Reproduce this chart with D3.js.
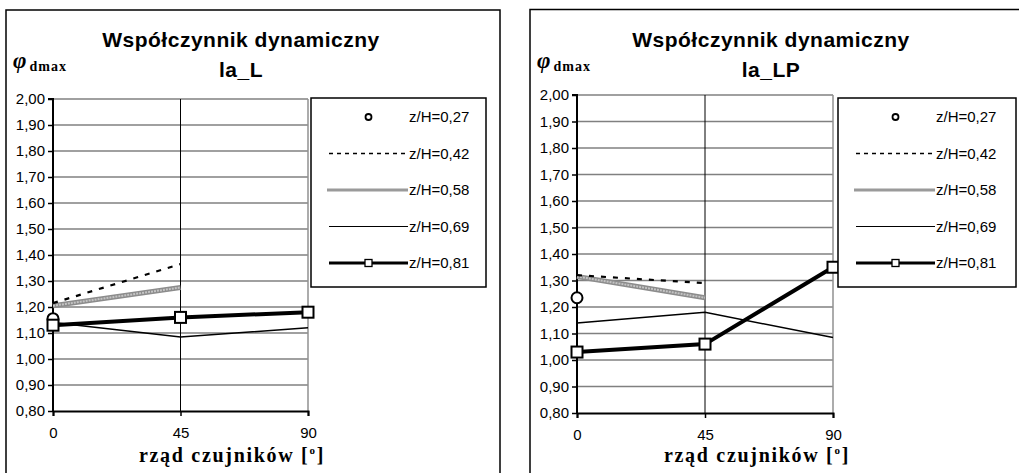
<!DOCTYPE html>
<html>
<head>
<meta charset="utf-8">
<script src="https://cdn.jsdelivr.net/npm/d3@7"></script>
<style>
  html, body { margin: 0; padding: 0; background: #fff; }
  svg { display: block; }
</style>
</head>
<body>
<svg id="chart" width="1019" height="473"></svg>
<script>
// Sensor rows (degrees) and value axis ticks
const categories = [0, 45, 90];
const yTicks = [0.8, 0.9, 1.0, 1.1, 1.2, 1.3, 1.4, 1.5, 1.6, 1.7, 1.8, 1.9, 2.0];
const seriesNames = ["z/H=0,27", "z/H=0,42", "z/H=0,58", "z/H=0,69", "z/H=0,81"];

// Dynamic coefficient, configuration la_L
const laL_027 = [1.155];
const laL_042 = [1.215, 1.365];
const laL_058 = [1.205, 1.275];
const laL_069 = [1.14, 1.085, 1.12];
const laL_081 = [1.13, 1.16, 1.18];

// Dynamic coefficient, configuration la_LP
const laLP_027 = [1.235];
const laLP_042 = [1.32, 1.29];
const laLP_058 = [1.315, 1.235];
const laLP_069 = [1.14, 1.18, 1.085];
const laLP_081 = [1.03, 1.06, 1.35];

const svg = d3.select("#chart");
const fmt = v => d3.format(".2f")(v).replace(".", ",");
const SANS = "'Liberation Sans', Arial, sans-serif";
const SERIF = "'Liberation Serif', 'Times New Roman', serif";

function panel(cfg) {
  const g = svg.append("g");

  // outer frame
  g.append("rect")
    .attr("x", cfg.box[0]).attr("y", cfg.box[1])
    .attr("width", cfg.box[2]).attr("height", cfg.box[3])
    .attr("fill", "#fff").attr("stroke", "#000").attr("stroke-width", 1.5);

  const x = d3.scaleLinear().domain([0, 90]).range([cfg.plot.x0, cfg.plot.x1]);
  const y = d3.scaleLinear().domain([0.8, 2.0]).range([cfg.plot.y0, cfg.plot.y1]);

  // horizontal gridlines
  g.append("g").selectAll("line").data(yTicks.slice(1)).join("line")
    .attr("x1", x(0)).attr("x2", x(90))
    .attr("y1", d => y(d)).attr("y2", d => y(d))
    .attr("stroke", "#808080").attr("stroke-width", 1.5);

  // vertical gridlines
  g.append("line")
    .attr("x1", x(45)).attr("x2", x(45)).attr("y1", y(2.0)).attr("y2", y(0.8))
    .attr("stroke", "#000").attr("stroke-width", 1);
  g.append("line")
    .attr("x1", x(90)).attr("x2", x(90)).attr("y1", y(2.0)).attr("y2", y(0.8))
    .attr("stroke", "#909090").attr("stroke-width", 1.5);

  // axes
  const yAxis = d3.axisLeft(y).tickValues(yTicks).tickFormat(fmt).tickSize(5).tickPadding(3);
  const ya = g.append("g").attr("transform", `translate(${x(0)},0)`).call(yAxis);
  const xAxis = d3.axisBottom(x).tickValues(categories).tickFormat(d3.format("d")).tickSize(5).tickPadding(11);
  const xa = g.append("g").attr("transform", `translate(0,${y(0.8)})`).call(xAxis);
  [ya, xa].forEach(a => {
    a.attr("font-size", 15).attr("font-family", SANS);
    a.select(".domain").attr("stroke", "#000").attr("stroke-width", 2);
    a.selectAll(".tick line").attr("stroke", "#000").attr("stroke-width", 1.5);
    a.selectAll(".tick text").attr("fill", "#000");
  });
  ya.select(".domain").attr("d", `M-5,${y(2.0)}H0V${y(0.8)}`);

  // titles
  const title = g.append("text")
    .attr("text-anchor", "middle")
    .style("font-family", SANS)
    .style("font-weight", "bold").style("font-size", "21px").style("letter-spacing", "0.5px");
  title.append("tspan").attr("x", cfg.titleX).attr("y", 47).text("Współczynnik dynamiczny");
  title.append("tspan").attr("x", cfg.titleX).attr("y", 77).text(cfg.name);

  const yl = g.append("text").attr("x", cfg.box[0] + 7).attr("y", 68)
    .style("font-family", SERIF).style("font-weight", "bold");
  yl.append("tspan").text("φ").style("font-style", "italic").style("font-size", "23px");
  yl.append("tspan").attr("dx", 3).attr("dy", 3).text("dmax").style("font-size", "14px").style("letter-spacing", "1px");

  const xt = g.append("text")
    .attr("x", cfg.xTitleX).attr("y", 462).attr("text-anchor", "middle")
    .style("font-family", SERIF)
    .style("font-weight", "bold").style("font-size", "20px").style("letter-spacing", "1.7px");
  xt.append("tspan").text("rząd czujników [");
  xt.append("tspan").text("o").style("font-size", "11px").attr("dy", -8);
  xt.append("tspan").text("]").attr("dy", 8);

  // series
  const line = d3.line().x((d, i) => x(categories[i])).y(d => y(d));
  const s = cfg.series;

  // z/H=0,58 — grey textured band
  g.append("path").datum(s[2]).attr("d", line).attr("fill", "none")
    .attr("stroke", "#8c8c8c").attr("stroke-width", 5);
  g.append("path").datum(s[2]).attr("d", line).attr("fill", "none")
    .attr("stroke", "#c4c4c4").attr("stroke-width", 2).attr("stroke-dasharray", "2,1");

  // z/H=0,42 — dashed
  g.append("path").datum(s[1]).attr("d", line).attr("fill", "none")
    .attr("stroke", "#000").attr("stroke-width", 2.2).attr("stroke-dasharray", "5,7");

  // z/H=0,69 — thin
  g.append("path").datum(s[3]).attr("d", line).attr("fill", "none")
    .attr("stroke", "#000").attr("stroke-width", 1.5);

  // z/H=0,27 — circle markers
  g.append("g").selectAll("circle").data(s[0]).join("circle")
    .attr("cx", (d, i) => x(categories[i])).attr("cy", d => y(d)).attr("r", 5.5)
    .attr("fill", "#fff").attr("stroke", "#000").attr("stroke-width", 2);

  // z/H=0,81 — heavy line with square markers
  g.append("path").datum(s[4]).attr("d", line).attr("fill", "none")
    .attr("stroke", "#000").attr("stroke-width", 4);
  g.append("g").selectAll("rect").data(s[4]).join("rect")
    .attr("x", (d, i) => x(categories[i]) - 5.5).attr("y", d => y(d) - 5.5)
    .attr("width", 11).attr("height", 11)
    .attr("fill", "#fff").attr("stroke", "#000").attr("stroke-width", 2);

  // legend
  const L = cfg.legend;
  const lg = g.append("g");
  lg.append("rect").attr("x", L.x).attr("y", L.y).attr("width", L.w).attr("height", L.h)
    .attr("fill", "#fff").attr("stroke", "#000").attr("stroke-width", 1.5);
  const rowY = i => L.y + 19 + i * 36.5;
  const lx0 = L.x + 18, lx1 = L.x + 97, lxm = (lx0 + lx1) / 2;
  seriesNames.forEach((name, i) => {
    const yy = rowY(i);
    if (i === 0) {
      lg.append("circle").attr("cx", lxm).attr("cy", yy).attr("r", 3)
        .attr("fill", "#fff").attr("stroke", "#000").attr("stroke-width", 1.8);
    } else if (i === 1) {
      lg.append("line").attr("x1", lx0).attr("x2", lx1).attr("y1", yy).attr("y2", yy)
        .attr("stroke", "#000").attr("stroke-width", 1.5).attr("stroke-dasharray", "4,4");
    } else if (i === 2) {
      lg.append("line").attr("x1", lx0 - 2).attr("x2", lx1).attr("y1", yy).attr("y2", yy)
        .attr("stroke", "#9a9a9a").attr("stroke-width", 3);
    } else if (i === 3) {
      lg.append("line").attr("x1", lx0).attr("x2", lx1).attr("y1", yy).attr("y2", yy)
        .attr("stroke", "#000").attr("stroke-width", 1.2);
    } else {
      lg.append("line").attr("x1", lx0).attr("x2", lx1).attr("y1", yy).attr("y2", yy)
        .attr("stroke", "#000").attr("stroke-width", 3);
      lg.append("rect").attr("x", lxm - 3.5).attr("y", yy - 3.5).attr("width", 7).attr("height", 7)
        .attr("fill", "#fff").attr("stroke", "#000").attr("stroke-width", 1.3);
    }
    lg.append("text").attr("x", lx1 + 1).attr("y", yy + 5).text(name)
      .style("font-family", SANS).style("font-size", "15px");
  });
}

panel({
  name: "la_L",
  box: [6, 10, 494, 480],
  plot: { x0: 53, x1: 308, y0: 411, y1: 99 },
  titleX: 241, xTitleX: 232,
  legend: { x: 311, y: 98, w: 175, h: 189 },
  series: [laL_027, laL_042, laL_058, laL_069, laL_081]
});

panel({
  name: "la_LP",
  box: [530, 9.5, 500, 480],
  plot: { x0: 577, x1: 833, y0: 413, y1: 95 },
  titleX: 771, xTitleX: 757,
  legend: { x: 838, y: 98, w: 178, h: 189 },
  series: [laLP_027, laLP_042, laLP_058, laLP_069, laLP_081]
});
</script>
</body>
</html>
